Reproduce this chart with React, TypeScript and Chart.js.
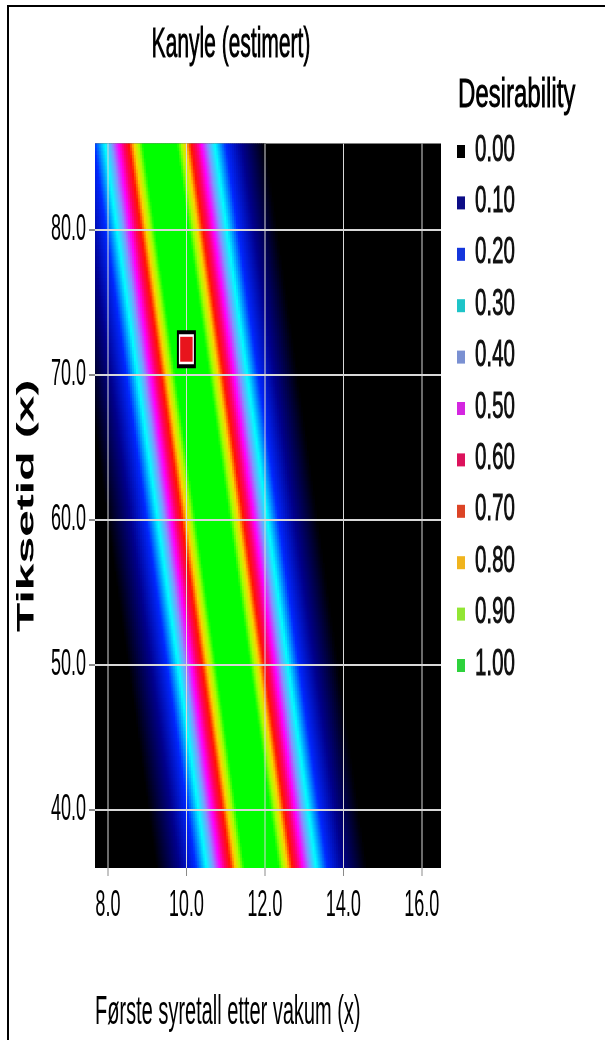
import React, { useEffect, useRef } from "react";
import Chart from "chart.js/auto";

// ---- data ----
const TITLE = "Kanyle (estimert)";
const X_TITLE = "Første syretall etter vakum (x)";
const Y_TITLE = "Tiksetid (x)";
const LEGEND_TITLE = "Desirability";

const X_RANGE = [7.67, 16.49];
const Y_RANGE = [36, 86];
const X_TICKS = [8, 10, 12, 14, 16];
const Y_TICKS = [40, 50, 60, 70, 80];

// colour legend levels and their colours (heatmap stops)
const LEVELS = [0, 0.1, 0.2, 0.3, 0.4, 0.5, 0.6, 0.7, 0.8, 0.9, 1.0];
const LEVEL_COLORS = [
  "#000000", "#00008c", "#0028ff", "#00ffff", "#8296ff", "#ff00ff",
  "#ff0064", "#ff1400", "#ffd200", "#aaff00", "#00ff00",
];
// legend swatch colours as they appear in the key
const LEGEND_SWATCHES = [
  "#000000", "#0c0c86", "#1436dc", "#1ec4c8", "#7a90d2", "#d426e0",
  "#dc125c", "#dc4426", "#f0b41e", "#92e634", "#2ed23c",
];

// half-width (x units) of the desirability band at which each level is reached
const BAND_HALF_WIDTH = [2.68, 2.09, 1.68, 1.4, 1.22, 1.06, 0.92, 0.79, 0.66, 0.55, 0.43];
// centre line of the band (x of peak desirability) at the bottom and top of the plot
const CENTRE_Y = [36, 86];
const CENTRE_X = [11.92, 9.33];

// estimated optimum marker
const OPTIMUM_X = [10.0];
const OPTIMUM_Y = [71.8];

// heatmap cell size (x units, y units)
const CELL = [0.05, 0.25];

// ---- helpers ----
function hexToRgb(h: string) {
  const n = parseInt(h.slice(1), 16);
  return [(n >> 16) & 255, (n >> 8) & 255, n & 255];
}
const RGB = LEVEL_COLORS.map(hexToRgb);

function colorFor(d: number) {
  const p = Math.max(0, Math.min(1, d)) * (LEVELS.length - 1);
  const i = Math.min(LEVELS.length - 2, Math.floor(p));
  const f = p - i;
  const a = RGB[i], b = RGB[i + 1];
  const r = Math.round(a[0] + (b[0] - a[0]) * f);
  const g = Math.round(a[1] + (b[1] - a[1]) * f);
  const bl = Math.round(a[2] + (b[2] - a[2]) * f);
  return `rgb(${r},${g},${bl})`;
}

function desirabilityAt(x: number, y: number) {
  const t = (y - CENTRE_Y[0]) / (CENTRE_Y[1] - CENTRE_Y[0]);
  const c = CENTRE_X[0] + t * (CENTRE_X[1] - CENTRE_X[0]);
  const u = Math.abs(x - c);
  const n = BAND_HALF_WIDTH.length - 1;
  if (u <= BAND_HALF_WIDTH[n]) return LEVELS[n];
  if (u >= BAND_HALF_WIDTH[0]) return LEVELS[0];
  for (let k = n; k > 0; k--) {
    const a = BAND_HALF_WIDTH[k];
    const b = BAND_HALF_WIDTH[k - 1];
    if (u >= a && u <= b) {
      const f = (u - a) / (b - a);
      return LEVELS[k] + f * (LEVELS[k - 1] - LEVELS[k]);
    }
  }
  return 0;
}

function buildHeat() {
  const pts: { x: number; y: number }[] = [];
  const cols: string[] = [];
  const nx = Math.ceil((X_RANGE[1] - X_RANGE[0]) / CELL[0]);
  const ny = Math.ceil((Y_RANGE[1] - Y_RANGE[0]) / CELL[1]);
  for (let j = 0; j < ny; j++) {
    const y = Y_RANGE[0] + (j + 0.5) * CELL[1];
    for (let i = 0; i < nx; i++) {
      const x = X_RANGE[0] + (i + 0.5) * CELL[0];
      const d = desirabilityAt(x, y);
      if (d <= 0.002) continue;
      pts.push({ x, y });
      cols.push(colorFor(d));
    }
  }
  return { pts, cols };
}

const FONT = '"Liberation Sans", Arial, Helvetica, sans-serif';

function scaledText(ctx: CanvasRenderingContext2D, text: string, x: number, y: number, sx: number) {
  ctx.save();
  ctx.translate(x, y);
  ctx.scale(sx, 1);
  ctx.lineWidth = 0.45;
  ctx.strokeStyle = ctx.fillStyle as string;
  ctx.fillText(text, 0, 0);
  ctx.strokeText(text, 0, 0);
  ctx.restore();
}

const overlayPlugin = {
  id: "overlay",
  beforeDatasetsDraw(chart: any) {
    const { ctx, chartArea } = chart;
    ctx.save();
    ctx.fillStyle = "#000";
    ctx.fillRect(chartArea.left, chartArea.top, chartArea.right - chartArea.left, chartArea.bottom - chartArea.top);
    ctx.restore();
  },
  afterDatasetDraw(chart: any, args: any) {
    const ds = chart.data.datasets[args.index];
    if (ds && ds.label === "heat") {
      chart.scales.x.drawGrid(chart.chartArea);
      chart.scales.y.drawGrid(chart.chartArea);
    }
  },
  afterDraw(chart: any) {
    const ctx = chart.ctx as CanvasRenderingContext2D;
    ctx.save();
    // frame
    ctx.fillStyle = "#000";
    ctx.fillRect(7, 2.5, 598, 1);
    ctx.fillRect(7, 2.5, 2, 517.5);
    // title
    ctx.fillStyle = "#000";
    ctx.textBaseline = "alphabetic";
    ctx.textAlign = "center";
    ctx.font = `21px ${FONT}`;
    scaledText(ctx, TITLE, 231, 28.3, 1);
    // legend
    ctx.textAlign = "left";
    ctx.font = `20px ${FONT}`;
    scaledText(ctx, LEGEND_TITLE, 458, 53.3, 1.2);
    ctx.font = `18px ${FONT}`;
    for (let i = 0; i < LEVELS.length; i++) {
      ctx.fillStyle = LEGEND_SWATCHES[i];
      ctx.fillRect(457, 72.5 + i * 25.7, 8, 6.5);
      ctx.fillStyle = "#111";
      scaledText(ctx, LEVELS[i].toFixed(2), 475, 80.3 + i * 25.7, 1.14);
    }
    ctx.restore();
  },
};

export default function App() {
  const ref = useRef<HTMLCanvasElement>(null);
  useEffect(() => {
    const canvas = ref.current;
    if (!canvas) return;
    const heat = buildHeat();
    const fmt = (v: any) => Number(v).toFixed(1);
    const chart = new Chart(canvas, {
      type: "scatter",
      data: {
        datasets: [
          {
            label: "optimum-inner",
            data: OPTIMUM_X.map((x, i) => ({ x, y: OPTIMUM_Y[i] })),
            pointStyle: "rect",
            pointRadius: 8.8,
            backgroundColor: "#e8141c",
            borderWidth: 0,
            order: 0,
            clip: false,
          },
          {
            label: "optimum-outer",
            data: OPTIMUM_X.map((x, i) => ({ x, y: OPTIMUM_Y[i] })),
            pointStyle: "rect",
            pointRadius: 12.0,
            backgroundColor: "#ffffff",
            borderColor: "#000000",
            borderWidth: 2,
            order: 1,
            clip: false,
          },
          {
            label: "heat",
            data: heat.pts,
            pointStyle: "rect",
            pointRadius: 1.7,
            pointHoverRadius: 1.7,
            backgroundColor: heat.cols,
            borderWidth: 0,
            order: 2,
            clip: 0,
          },
        ],
      },
      options: {
        animation: false,
        responsive: false,
        devicePixelRatio: 2,
        events: [],
        parsing: false,
        normalized: true,
        layout: { padding: { top: 71.75, right: 164, bottom: 0, left: 0 } },
        font: { family: FONT },
        plugins: {
          legend: { display: false },
          title: { display: false },
          tooltip: { enabled: false },
        },
        scales: {
          x: {
            type: "linear",
            position: "bottom",
            min: X_RANGE[0],
            max: X_RANGE[1],
            afterBuildTicks: (s: any) => {
              s.ticks = X_TICKS.map((v) => ({ value: v }));
            },
            afterFit: (s: any) => {
              s.height = 86;
            },
            ticks: {
              font: { family: FONT, size: 18 },
              color: "#000",
              padding: 4,
              maxRotation: 0,
              autoSkip: false,
              callback: fmt,
            },
            grid: { color: "#d8d8d8", lineWidth: 1, tickLength: 4, tickColor: "#8a8a8a" },
            border: { display: false },
            title: {
              display: true,
              text: X_TITLE,
              align: "start",
              color: "#000",
              font: { family: FONT, size: 20 },
              padding: { top: 0, bottom: 1.5 },
            },
          },
          y: {
            type: "linear",
            position: "left",
            min: Y_RANGE[0],
            max: Y_RANGE[1],
            afterBuildTicks: (s: any) => {
              s.ticks = Y_TICKS.map((v) => ({ value: v }));
            },
            afterFit: (s: any) => {
              s.width = 95;
            },
            ticks: {
              font: { family: FONT, size: 18 },
              color: "#000",
              padding: 3,
              autoSkip: false,
              callback: fmt,
            },
            grid: { color: "#d8d8d8", lineWidth: 1, tickLength: 6, tickColor: "#8a8a8a" },
            border: { display: false },
            title: {
              display: true,
              text: Y_TITLE,
              color: "#000",
              font: { family: FONT, size: 24, weight: "bold" },
              padding: { top: 12.6, bottom: 0 },
            },
          },
        },
      },
      plugins: [overlayPlugin],
    } as any);
    return () => chart.destroy();
  }, []);

  return (
    <div style={{ position: "absolute", left: 0, top: 0, width: 605, height: 1040, background: "#fff", overflow: "hidden" }}>
      <canvas ref={ref} width={605} height={520} style={{ width: "605px", height: "1040px", display: "block" }} />
    </div>
  );
}
